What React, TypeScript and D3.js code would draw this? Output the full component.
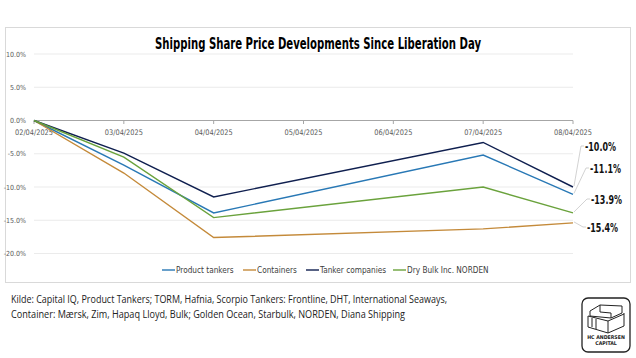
import React from 'react';
import * as d3 from 'd3';

const dates = ['02/04/2025', '03/04/2025', '04/04/2025', '05/04/2025', '06/04/2025', '07/04/2025', '08/04/2025'];
const yTicks = [10, 5, 0, -5, -10, -15, -20];

// values in %, null = no trading day (line skips straight across)
const productTankers = [0, -6.7, -13.9, null, null, -5.2, -11.1];
const containers = [0, -7.9, -17.6, null, null, -16.3, -15.4];
const tankerCompanies = [0, -4.9, -11.5, null, null, -3.3, -10.0];
const dryBulk = [0, -5.5, -14.6, null, null, -10.0, -13.9];

const seriesNames = ['Product tankers', 'Containers', 'Tanker companies', 'Dry Bulk Inc. NORDEN'];
const seriesColors = ['#2878b5', '#c48a3a', '#0f1f4f', '#6aa23c'];
const seriesValues = [productTankers, containers, tankerCompanies, dryBulk];

const endLabels = ['-11.1%', '-15.4%', '-10.0%', '-13.9%'];

const condensed = '"DejaVu Sans Condensed", "DejaVu Sans", sans-serif';

export default function App() {
  const x = d3.scalePoint<string>().domain(dates).range([34, 573]);
  const y = d3.scaleLinear().domain([-20, 10]).range([253.5, 54]);

  const line = d3
    .line<[string, number]>()
    .x(d => x(d[0]) as number)
    .y(d => y(d[1]));

  // label placement for the end values (y in px, x start)
  const labelPos = [
    { ly: 168, lx: 590 },
    { ly: 227, lx: 587 },
    { ly: 146, lx: 585 },
    { ly: 199, lx: 591 },
  ];
  const legendX = [162, 243, 306, 393];

  return (
    <div style={{ position: 'absolute', left: 0, top: 0 }}>
      <svg width={636} height={358} style={{ display: 'block', background: '#fff' }}>
        <rect x={5.5} y={27.5} width={625} height={255} fill="#fff" stroke="#d9d9d9" />
        <text x={318} y={49} textAnchor="middle" fontFamily={condensed} fontWeight="bold" fontSize={15}
          textLength={326} lengthAdjust="spacingAndGlyphs" fill="#000">
          Shipping Share Price Developments Since Liberation Day
        </text>

        {yTicks.map(t => (
          <g key={t}>
            <line x1={34} x2={573} y1={y(t)} y2={y(t)} stroke={t === 0 ? '#a6a6a6' : '#e6e6e6'} strokeWidth={t === 0 ? 1.2 : 0.8} />
            <text x={26} y={y(t) + 2.5} textAnchor="end" fontFamily={condensed} fontSize={7} fill="#595959">
              {t.toFixed(1) + '%'}
            </text>
          </g>
        ))}

        {dates.map(d => (
          <g key={d}>
            <line x1={x(d)} x2={x(d)} y1={y(0)} y2={y(0) + 3.5} stroke="#a6a6a6" />
            <text x={x(d)} y={y(0) + 14} textAnchor="middle" fontFamily={condensed} fontSize={7.6}
              textLength={38} lengthAdjust="spacingAndGlyphs" fill="#595959">{d}</text>
          </g>
        ))}

        {seriesValues.map((vals, i) => {
          const pts = vals
            .map((v, j) => [dates[j], v] as [string, number | null])
            .filter(p => p[1] !== null) as [string, number][];
          return <path key={i} d={line(pts) || ''} fill="none" stroke={seriesColors[i]} strokeWidth={1.4} />;
        })}

        {seriesValues.map((vals, i) => {
          const last = vals[vals.length - 1] as number;
          const px = x(dates[dates.length - 1]) as number;
          const py = y(last);
          const p = labelPos[i];
          return (
            <g key={i}>
              <polyline points={`${px + 1},${py - 1} ${p.lx - 4},${p.ly} ${p.lx - 1},${p.ly}`}
                fill="none" stroke="#bfbfbf" strokeWidth={0.7} />
              <text x={p.lx} y={p.ly + 4.5} fontFamily={condensed} fontWeight="bold" fontSize={12.5}
                textLength={31} lengthAdjust="spacingAndGlyphs" fill="#111">{endLabels[i]}</text>
            </g>
          );
        })}

        {seriesNames.map((n, i) => (
          <g key={n}>
            <line x1={legendX[i]} x2={legendX[i] + 13} y1={270} y2={270} stroke={seriesColors[i]} strokeWidth={1.4} />
            <text x={legendX[i] + 14} y={273} fontFamily={condensed} fontSize={8.2} fill="#404040">{n}</text>
          </g>
        ))}

        <text x={11} y={303} fontFamily='"Open Sans", sans-serif' fontSize={11.6} fill="#222"
          textLength={436} lengthAdjust="spacingAndGlyphs">
          Kilde: Capital IQ, Product Tankers; TORM, Hafnia, Scorpio Tankers: Frontline, DHT, International Seaways,
        </text>
        <text x={11} y={318} fontFamily='"Open Sans", sans-serif' fontSize={11.6} fill="#222"
          textLength={394} lengthAdjust="spacingAndGlyphs">
          Container: Mærsk, Zim, Hapaq Lloyd, Bulk; Golden Ocean, Starbulk, NORDEN, Diana Shipping
        </text>

        <g stroke="#222" fill="none" strokeWidth={1}>
          <rect x={582} y={298} width={48} height={54} rx={6} strokeWidth={1.3} />
          <path d="M590,311 L600,305 L622,306 L622,313 L611,318 L590,316 Z" />
          <path d="M600,305 L600,312 L611,313 L611,318" />
          <path d="M588,316 L588,327 L608,333 L624,326 L624,313" />
          <path d="M608,333 L608,321 L588,316 M608,321 L624,314" />
          <path d="M592,318 L592,327 M596,319 L596,329" />
        </g>
        <text x={606} y={339} textAnchor="middle" fontFamily={condensed} fontWeight="bold" fontSize={5.2} fill="#222">HC ANDERSEN</text>
        <text x={606} y={345} textAnchor="middle" fontFamily={condensed} fontWeight="bold" fontSize={5.2} fill="#222">CAPITAL</text>
      </svg>
    </div>
  );
}
